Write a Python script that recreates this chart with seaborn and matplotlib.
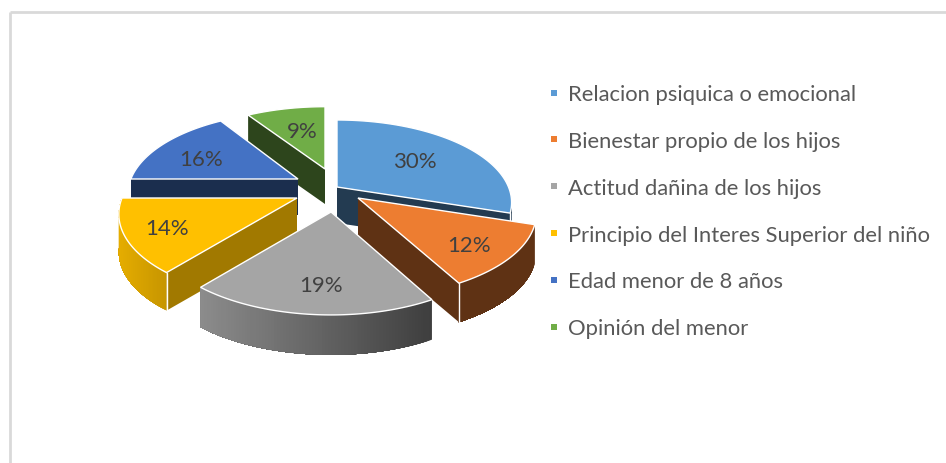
import matplotlib.pyplot as plt
import numpy as np
import seaborn as sns
from matplotlib.colors import to_rgb
from matplotlib.lines import Line2D

categories = [
    "Relacion psiquica o emocional",
    "Bienestar propio de los hijos",
    "Actitud dañina de los hijos",
    "Principio del Interes Superior del niño",
    "Edad menor de 8 años",
    "Opinión del menor",
]
values = [30, 12, 19, 14, 16, 9]
colors = ["#5b9bd5", "#ed7d31", "#a5a5a5", "#ffc000", "#4472c4", "#70ad47"]

# pie look: perspective of the disc, pixels on the canvas, one entry per slice
RX, RY, PERSP = 175, 79.6, 0.188
CENTER = (327, 193)
apex_dx = [10, 31, 4, -30, -29, -2]
apex_dy = [-5, 6, 20, 6, -13, -23]
size_x = [0.98, 1.0, 1.0, 1.0, 0.955, 0.95]
size_y = [1.0, 1.02, 1.05, 1.04, 1.0, 0.93]
wall_depth = [36, 39, 40, 38, 36, 35]
label_r = [0.62, 0.75, 0.75, 0.75, 0.70, 0.60]
label_dx = [-4, 0, 4, -4, 4, 4]
label_dy = [1, 5, 4, 3, 5, 3]
side_shade = [0.38, 0.40, 0.40, 0.63, 0.40, 0.40]
arc_shade = [(0.38, 0.38), (0.40, 0.40), (0.85, 0.38), (0.90, 0.78), (0.40, 0.40), (0.40, 0.40)]
draw_order = [5, 4, 0, 3, 1, 2]

sns.set_theme(style="white")
plt.rcParams["font.family"] = ["Lato", "DejaVu Sans"]
palette = sns.color_palette(colors)


def project(theta, r=1.0):
    x = r * np.cos(theta)
    y = r * np.sin(theta)
    d = 1 + PERSP * y
    return RX * x / d, RY * y / d


fig, ax = plt.subplots(figsize=(9.46, 4.64), dpi=100)
ax.set_position([0, 0, 1, 1])
ax.set_xlim(0, 946)
ax.set_ylim(464, 0)
ax.axis("off")

# chart frame, only top and left show in the crop
ax.plot([10, 10], [464, 13], color="#d9d9d9", lw=2, solid_capstyle="butt")
ax.plot([10, 946], [13, 13], color="#d9d9d9", lw=2, solid_capstyle="butt")

shares = np.array(values) / sum(values)
ends = np.pi / 2 - 2 * np.pi * np.cumsum(shares)
starts = np.concatenate([[np.pi / 2], ends[:-1]])

z = 3
for i in draw_order:
    ax_x = CENTER[0] + apex_dx[i]
    ax_y = CENTER[1] + apex_dy[i]
    thetas = np.linspace(starts[i], ends[i], 80)
    px, py = project(thetas)
    arc = np.column_stack([ax_x + px * size_x[i], ax_y - py * size_y[i]])
    apex = np.array([ax_x, ax_y])
    base = np.array(to_rgb(palette[i]))
    depth = wall_depth[i]

    # straight sides, only those that look towards the viewer
    for p, q in [(apex, arc[0]), (arc[-1], apex)]:
        if q[0] < p[0]:
            ax.fill([p[0], q[0], q[0], p[0]], [p[1], q[1], q[1] + depth, p[1] + depth],
                    facecolor=tuple(base * side_shade[i]), edgecolor="none", zorder=z)

    # rim, shaded left to right; each piece runs on to the end so no seams show
    left, right = arc[:, 0].min(), arc[:, 0].max()
    front = np.where(arc[1:, 0] < arc[:-1, 0])[0]
    for k in front:
        t = (arc[k, 0] - left) / max(right - left, 1)
        f = arc_shade[i][0] + t * (arc_shade[i][1] - arc_shade[i][0])
        rest = arc[k:]
        xs = np.concatenate([rest[:, 0], rest[::-1, 0]])
        ys = np.concatenate([rest[:, 1], rest[::-1, 1] + depth])
        ax.fill(xs, ys, facecolor=tuple(base * f), edgecolor="none", zorder=z)

    # white corner where rim meets a visible straight side
    if len(front):
        if arc[0, 0] < apex[0] and front[0] == 0:
            ax.plot([arc[0, 0]] * 2, [arc[0, 1], arc[0, 1] + depth], color="white", lw=1, zorder=z)
        if apex[0] < arc[-1, 0]:
            ax.plot([arc[-1, 0]] * 2, [arc[-1, 1], arc[-1, 1] + depth], color="white", lw=1, zorder=z)

    # top face
    outline = np.vstack([apex, arc])
    ax.fill(outline[:, 0], outline[:, 1], facecolor=base, edgecolor="white", linewidth=1, zorder=z)

    mid = (starts[i] + ends[i]) / 2
    lx, ly = project(mid, label_r[i])
    ax.text(ax_x + lx + label_dx[i], ax_y - ly + label_dy[i], f"{values[i]}%", ha="center", va="center",
            fontsize=16, color="#404040", zorder=20)
    z += 1

handles = [Line2D([], [], marker="s", linestyle="none", color=palette[i], markersize=4.8,
                  markeredgewidth=0) for i in range(len(values))]
ax.legend(handles, categories, loc="upper left", bbox_to_anchor=(0.58, 0.816), frameon=False,
          fontsize=15.8, labelcolor="#595959", labelspacing=1.22, handlelength=0.5,
          handletextpad=0.38, borderaxespad=0, borderpad=0)

fig.savefig("out.png", dpi=100)
